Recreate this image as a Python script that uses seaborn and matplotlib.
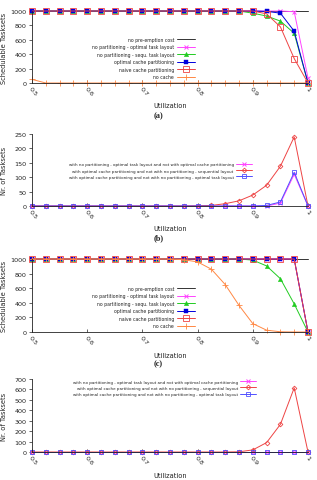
import numpy as np
import matplotlib
matplotlib.use("Agg")
from matplotlib import pyplot as plt
import seaborn as sns

# utilization steps (0.5 .. 1.0, step 0.025)
util = [0.5, 0.525, 0.55, 0.575, 0.6, 0.625, 0.65, 0.675, 0.7, 0.725, 0.75,
        0.775, 0.8, 0.825, 0.85, 0.875, 0.9, 0.925, 0.95, 0.975, 1.0]

# panel (a)
a_no_preempt = [1000] * 21
a_nopart_opt = [1000] * 19 + [990, 70]
a_nopart_seq = [1000] * 16 + [970, 930, 860, 690, 0]
a_opt_cache = [1000] * 17 + [995, 970, 720, 0]
a_naive_cache = [1000] * 17 + [960, 780, 340, 0]
a_no_cache = [50] + [0] * 20

# panel (b)
b_nopart_opt_not_cache = [0] * 18 + [10, 110, 0]
b_cache_not_seq = [0] * 12 + [1, 2, 8, 18, 38, 72, 138, 240, 0]
b_cache_not_opt = [0] * 17 + [2, 14, 117, 0]

# panel (c)
c_no_preempt = [1000] * 21
c_nopart_opt = [1000] * 20 + [0]
c_nopart_seq = [1000] * 16 + [985, 905, 730, 385, 0]
c_opt_cache = [1000] * 20 + [0]
c_naive_cache = [1000] * 20 + [0]
c_no_cache = [1000] * 11 + [990, 960, 860, 650, 365, 115, 25, 3, 0, 0]

# panel (d)
d_nopart_opt_not_cache = [0] * 21
d_cache_not_seq = [0] * 15 + [2, 20, 90, 265, 615, 0]
d_cache_not_opt = [0] * 21

sched_labels = [
    "no pre-emption cost",
    "no partitioning - optimal task layout",
    "no partitioning - sequ. task layout",
    "optimal cache partitioning",
    "naive cache partitioning",
    "no cache",
]
diff_labels = [
    "with no partitioning - optimal task layout and not with optimal cache partitioning",
    "with optimal cache partitioning and not with no partitioning - sequential layout",
    "with optimal cache partitioning and not with no partitioning - optimal task layout",
]
xticks = [0.5, 0.6, 0.7, 0.8, 0.9, 1.0]
xtick_labels = ["0.5", "0.6", "0.7", "0.8", "0.9", "1"]

sns.set_style("ticks")
plt.rcParams["font.family"] = ["DejaVu Sans"]

BLACK = "#333333"
MAGENTA = "#ff44ff"
GREEN = "#22cc22"
BLUE = "#0000dd"
RED = "#ee4444"
ORANGE = "#ff8844"
LBLUE = "#5050ff"


def style(color, marker=None, size=3.3, open_=False, mew=0.6):
    st = dict(color=color, marker=marker, markersize=size,
              markeredgecolor=color, markeredgewidth=mew)
    if open_:
        st["markerfacecolor"] = "none"
    else:
        st["markerfacecolor"] = color
    return st


sched_styles = [
    style(BLACK),
    style(MAGENTA, "x", 3.5, mew=0.7),
    style(GREEN, "^", 3.2, mew=0.3),
    style(BLUE, "s", 3.3, mew=0.3),
    style(RED, "s", 3.8, open_=True),
    style(ORANGE, "+", 3.8),
]
diff_styles = [
    style(MAGENTA, "x", 3.2, mew=0.7),
    style(RED, "D", 2.4, open_=True),
    style(LBLUE, "s", 3.4, open_=True),
]


def draw_panel(ax, series, labels, styles, ymax, ystep, ylabel, leg_anchor,
               leg_loc, leg_fs):
    for ys, lab, st in zip(series, labels, styles):
        sns.lineplot(x=util, y=ys, ax=ax, label=lab, linewidth=0.7,
                     clip_on=False, **st)
    ax.set_xlim(0.5, 1.0)
    ax.set_ylim(0, ymax)
    ax.set_yticks(np.arange(0, ymax + 1, ystep))
    ax.set_xticks(xticks)
    ax.set_xticklabels(xtick_labels, rotation=-50, ha="left", va="top",
                       rotation_mode="anchor")
    ax.tick_params(axis="both", labelsize=4.6, length=2, width=0.5,
                   direction="in", pad=2, colors="#222222")
    ax.tick_params(axis="y", direction="out")
    for side in ["top", "right"]:
        ax.spines[side].set_visible(False)
    for side in ["left", "bottom"]:
        ax.spines[side].set_linewidth(0.6)
        ax.spines[side].set_color("#222222")
    ax.set_ylabel(ylabel, fontsize=4.8, color="#222222")
    ax.yaxis.set_label_coords(-0.09, 0.5)
    ax.set_xlabel("Utilization", fontsize=4.8, color="#222222")
    ax.xaxis.set_label_coords(0.5, -0.27)
    leg = ax.legend(loc=leg_loc, bbox_to_anchor=leg_anchor, frameon=False,
                    markerfirst=False, fontsize=leg_fs, handlelength=4,
                    labelspacing=0.55, borderpad=0, handletextpad=0.6)
    for col in leg._legend_handle_box.get_children():
        col.align = "right"
    for t in leg.get_texts():
        t.set_color("#222222")
    return ax


fig = plt.figure(figsize=(3.17, 4.81), dpi=100)
fig.patch.set_facecolor("white")

L, W = 32 / 317, 276 / 317


def rect(top_px, bot_px):
    return [L, 1 - bot_px / 481, W, (bot_px - top_px) / 481]


ax_a = fig.add_axes(rect(12, 84))
draw_panel(ax_a, [a_no_preempt, a_nopart_opt, a_nopart_seq, a_opt_cache,
                  a_naive_cache, a_no_cache],
           sched_labels, sched_styles, 1000, 200, "Schedulable Tasksets",
           (0.6, 0.02), "lower right", 3.3)

ax_b = fig.add_axes(rect(135, 207))
draw_panel(ax_b, [b_nopart_opt_not_cache, b_cache_not_seq, b_cache_not_opt],
           diff_labels, diff_styles, 250, 50, "Nr. of Tasksets",
           (0.805, 0.35), "lower right", 2.9)

ax_c = fig.add_axes(rect(260, 333))
draw_panel(ax_c, [c_no_preempt, c_nopart_opt, c_nopart_seq, c_opt_cache,
                  c_naive_cache, c_no_cache],
           sched_labels, sched_styles, 1000, 200, "Schedulable Tasksets",
           (0.6, 0.02), "lower right", 3.3)

ax_d = fig.add_axes(rect(380, 453))
draw_panel(ax_d, [d_nopart_opt_not_cache, d_cache_not_seq, d_cache_not_opt],
           diff_labels, diff_styles, 700, 100, "Nr. of Tasksets",
           (0.82, 1.02), "upper right", 2.9)

for lab, ypx in [("(a)", 116), ("(b)", 238), ("(c)", 364)]:
    fig.text(0.5, 1 - ypx / 481, lab, ha="center", va="center", fontsize=6,
             fontweight="bold", family="Liberation Serif")

fig.savefig("out.png", dpi=100)
